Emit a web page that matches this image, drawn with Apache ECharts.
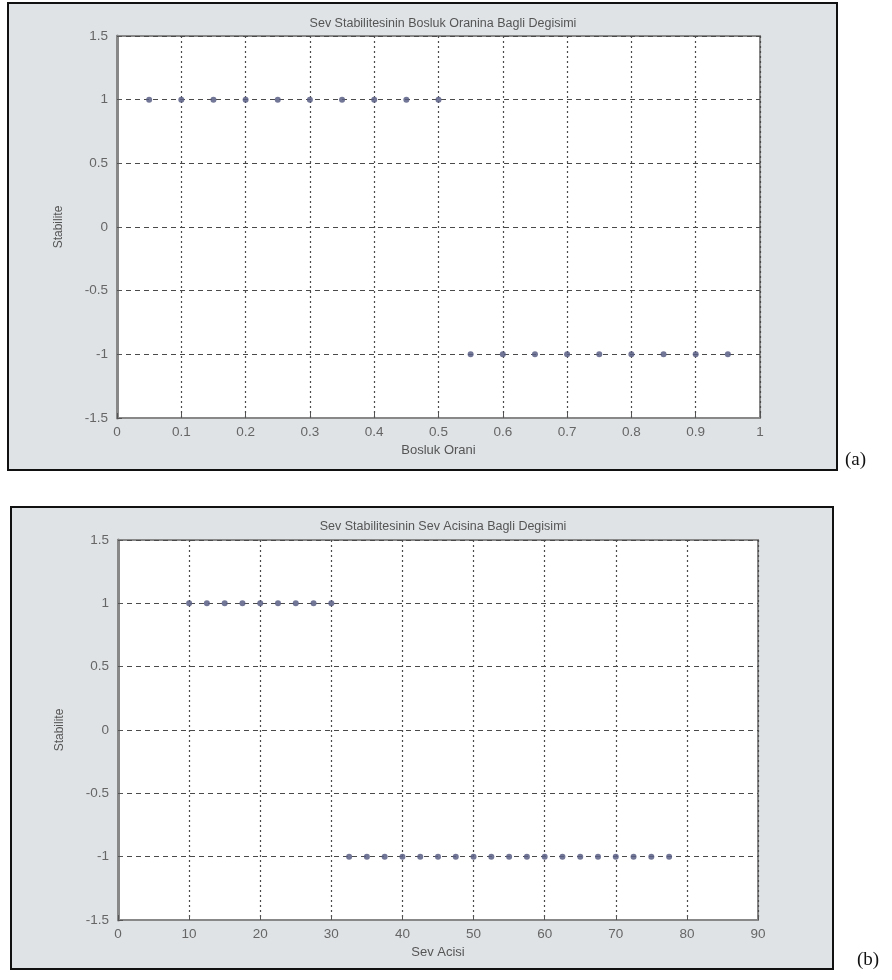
<!DOCTYPE html>
<html>
<head>
<meta charset="utf-8">
<script src="https://cdn.jsdelivr.net/npm/echarts@6/dist/echarts.min.js"></script>
<style>
html,body{margin:0;padding:0;background:#fff;}
#c{width:892px;height:980px;}
</style>
</head>
<body>
<div id="c"></div>
<script>
// ---- data ----
const titleA = 'Sev Stabilitesinin Bosluk Oranina Bagli Degisimi';
const titleB = 'Sev Stabilitesinin Sev Acisina Bagli Degisimi';
const xNameA = 'Bosluk Orani';
const xNameB = 'Sev Acisi';
const yName = 'Stabilite';
const boslukX = [0.05,0.1,0.15,0.2,0.25,0.3,0.35,0.4,0.45,0.5,0.55,0.6,0.65,0.7,0.75,0.8,0.85,0.9,0.95];
const boslukY = [1,1,1,1,1,1,1,1,1,1,-1,-1,-1,-1,-1,-1,-1,-1,-1];
const acisiX = [10,12.5,15,17.5,20,22.5,25,27.5,30,32.5,35,37.5,40,42.5,45,47.5,50,52.5,55,57.5,60,62.5,65,67.5,70,72.5,75,77.5];
const acisiY = [1,1,1,1,1,1,1,1,1,-1,-1,-1,-1,-1,-1,-1,-1,-1,-1,-1,-1,-1,-1,-1,-1,-1,-1,-1];

const pairs = (xs, ys) => xs.map((x, i) => [x, ys[i]]);

const font = 'Liberation Sans, Arial, sans-serif';
const labelStyle = {color:'#666', fontSize:13.5, fontFamily:font};
const gridLine = (type, w) => ({show:true, lineStyle:{color:'#4a4a4a', width:w, type:type}});

function xAxis(gi, max, interval, name) {
  return {
    type:'value', gridIndex:gi, min:0, max:max, interval:interval,
    name:name, nameLocation:'middle', nameGap:26,
    nameTextStyle:{color:'#555', fontSize:13, fontFamily:font},
    axisLine:{show:true, onZero:false, lineStyle:{color:'#888', width:2}},
    axisTick:{show:true, inside:true, length:5, lineStyle:{color:'#555'}},
    axisLabel:{...labelStyle, margin:7},
    splitLine:gridLine([2,3], 1.2)
  };
}
function yAxis(gi) {
  return {
    type:'value', gridIndex:gi, min:-1.5, max:1.5, interval:0.5,
    name:yName, nameLocation:'middle', nameGap:52,
    nameTextStyle:{color:'#555', fontSize:12, fontFamily:font},
    axisLine:{show:true, onZero:false, lineStyle:{color:'#888', width:3}},
    axisTick:{show:true, inside:true, length:5, lineStyle:{color:'#555'}},
    axisLabel:{...labelStyle, margin:9},
    splitLine:gridLine([5,4], 1.2)
  };
}

const chart = echarts.init(document.getElementById('c'));
chart.setOption({
  animation:false,
  backgroundColor:'#fff',
  graphic:[
    {type:'rect', z:-10, shape:{x:8, y:3, width:829, height:467}, style:{fill:'#dfe3e6', stroke:'#111', lineWidth:2}},
    {type:'rect', z:-10, shape:{x:11, y:507, width:822, height:462}, style:{fill:'#dfe3e6', stroke:'#111', lineWidth:2}},
    {type:'text', left:845, top:451, style:{text:'(a)', fill:'#111', font:'19px "Liberation Serif", "DejaVu Serif", serif'}},
    {type:'text', left:857, top:951, style:{text:'(b)', fill:'#111', font:'19px "Liberation Serif", "DejaVu Serif", serif'}}
  ],
  title:[
    {text:titleA, left:438, top:12, textAlign:'center', textStyle:{color:'#555', fontSize:12.5, fontWeight:'normal', fontFamily:font}},
    {text:titleB, left:438, top:515, textAlign:'center', textStyle:{color:'#555', fontSize:12.5, fontWeight:'normal', fontFamily:font}}
  ],
  grid:[
    {left:117, top:36, width:643, height:382, show:true, backgroundColor:'#fff', borderColor:'#888', borderWidth:2},
    {left:118, top:540, width:640, height:380, show:true, backgroundColor:'#fff', borderColor:'#888', borderWidth:2}
  ],
  xAxis:[xAxis(0, 1, 0.1, xNameA), xAxis(1, 90, 10, xNameB)],
  yAxis:[yAxis(0), yAxis(1)],
  series:[
    {type:'scatter', xAxisIndex:0, yAxisIndex:0, data:pairs(boslukX, boslukY), symbol:'circle', symbolSize:6,
     itemStyle:{color:'#5a5f85', opacity:0.85}},
    {type:'scatter', xAxisIndex:1, yAxisIndex:1, data:pairs(acisiX, acisiY), symbol:'circle', symbolSize:6,
     itemStyle:{color:'#5a5f85', opacity:0.85}}
  ]
});
</script>
</body>
</html>
